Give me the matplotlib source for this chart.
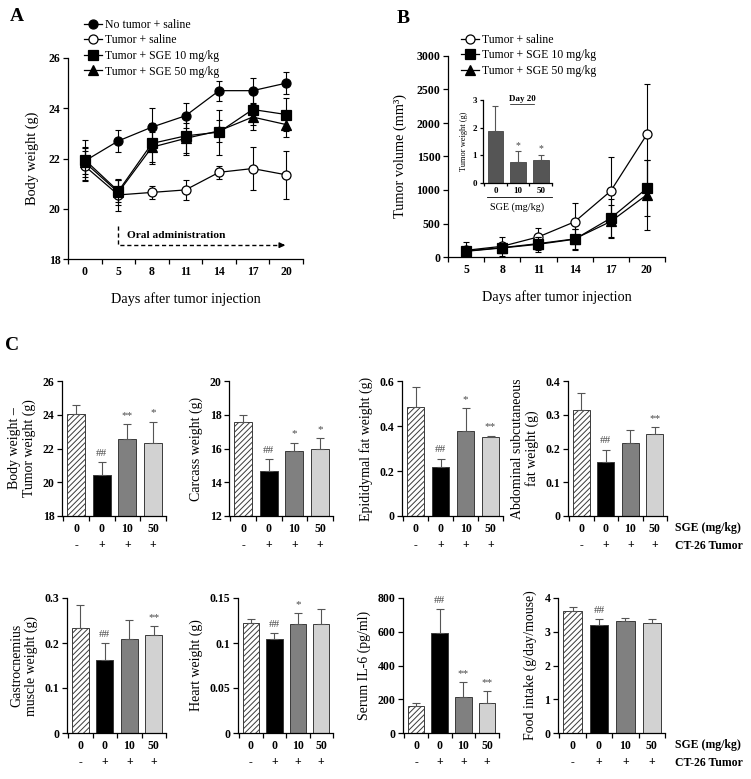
import matplotlib.pyplot as plt
import numpy as np
from matplotlib.ticker import FuncFormatter

plt.rcParams['font.family'] = ['Liberation Serif', 'DejaVu Serif']
plt.rcParams['font.weight'] = 'bold'
plt.rcParams['axes.linewidth'] = 0.9
plt.rcParams['hatch.linewidth'] = 0.7

W, H = 751, 779

# ---- Panel A: body weight over time ----
days_a = ['0', '5', '8', '11', '14', '17', '20']
bw_no_tumor = [21.9, 22.7, 23.25, 23.7, 24.7, 24.7, 25.0]
bw_no_tumor_err = [0.5, 0.45, 0.75, 0.5, 0.4, 0.5, 0.45]
bw_tumor = [21.7, 20.55, 20.65, 20.75, 21.45, 21.6, 21.35]
bw_tumor_err = [0.6, 0.65, 0.25, 0.4, 0.25, 0.85, 0.95]
bw_sge10 = [21.95, 20.7, 22.6, 22.9, 23.05, 23.95, 23.75]
bw_sge10_err = [0.8, 0.45, 0.8, 0.75, 0.9, 0.6, 0.65]
bw_sge50 = [21.85, 20.65, 22.45, 22.8, 23.1, 23.65, 23.35]
bw_sge50_err = [0.6, 0.5, 0.6, 0.6, 0.45, 0.5, 0.5]

# ---- Panel B: tumor volume ----
days_b = ['5', '8', '11', '14', '17', '20']
tv_tumor = [100, 160, 300, 525, 985, 1830]
tv_tumor_err = [120, 140, 140, 280, 510, 750]
tv_sge10 = [85, 135, 190, 265, 580, 1025]
tv_sge10_err = [60, 80, 110, 160, 280, 420]
tv_sge50 = [90, 140, 200, 270, 530, 930]
tv_sge50_err = [60, 70, 100, 150, 240, 520]

# inset: tumor weight at day 20
inset_doses = ['0', '10', '50']
inset_weight = [1.88, 0.77, 0.83]
inset_err = [0.9, 0.38, 0.2]
inset_marks = ['', '*', '*']

# ---- Panel C: bar panels ----
sge_dose = ['0', '0', '10', '50']
ct26 = ['-', '+', '+', '+']

bw_minus_tumor = [24.05, 20.45, 22.55, 22.3]
bw_minus_tumor_err = [0.5, 0.75, 0.9, 1.3]
bw_minus_tumor_sig = ['', '##', '**', '*']

carcass = [17.6, 14.65, 15.85, 15.95]
carcass_err = [0.4, 0.7, 0.5, 0.65]
carcass_sig = ['', '##', '*', '*']

epi_fat = [0.485, 0.22, 0.38, 0.352]
epi_fat_err = [0.09, 0.035, 0.1, 0.005]
epi_fat_sig = ['', '##', '*', '**']

abd_fat = [0.313, 0.16, 0.215, 0.243]
abd_fat_err = [0.052, 0.037, 0.04, 0.02]
abd_fat_sig = ['', '##', '', '**']

gastro = [0.233, 0.163, 0.21, 0.218]
gastro_err = [0.052, 0.036, 0.042, 0.02]
gastro_sig = ['', '##', '', '**']

heart = [0.122, 0.104, 0.121, 0.121]
heart_err = [0.005, 0.007, 0.012, 0.017]
heart_sig = ['', '##', '*', '']

il6 = [160, 595, 212, 175]
il6_err = [20, 140, 90, 75]
il6_sig = ['', '##', '**', '**']

food = [3.62, 3.2, 3.31, 3.25]
food_err = [0.1, 0.17, 0.1, 0.13]
food_sig = ['', '##', '', '']


def box(l, t, r, b):
    return [l / W, 1 - b / H, (r - l) / W, (b - t) / H]


def style(ax, labels, fs, ypad=2):
    ax.spines['top'].set_visible(False)
    ax.spines['right'].set_visible(False)
    n = len(labels)
    ax.set_xticks(np.arange(n + 1) - 0.5)
    ax.set_xticklabels([])
    ax.set_xticks(np.arange(n), minor=True)
    ax.set_xticklabels(labels, minor=True)
    ax.tick_params(axis='both', which='major', direction='out', length=3.5,
                   width=0.9, labelsize=fs, pad=ypad)
    ax.tick_params(axis='x', which='minor', length=0, labelsize=fs, pad=5)
    ax.yaxis.set_major_formatter(FuncFormatter(lambda v, p: '%g' % v))


fig = plt.figure(figsize=(W / 100, H / 100), dpi=100)

# Panel A
ax = fig.add_axes(box(68, 58, 303, 259))
xa = np.arange(len(days_a))
series_a = [
    (bw_no_tumor, bw_no_tumor_err, 'o', 'black', 'No tumor + saline'),
    (bw_tumor, bw_tumor_err, 'o', 'white', 'Tumor + saline'),
    (bw_sge10, bw_sge10_err, 's', 'black', 'Tumor + SGE 10 mg/kg'),
    (bw_sge50, bw_sge50_err, '^', 'black', 'Tumor + SGE 50 mg/kg'),
]
for vals, errs, mk, fc, lab in series_a:
    ax.errorbar(xa, vals, yerr=errs, fmt='none', ecolor='black',
                elinewidth=0.8, capsize=2.5, capthick=0.8)
    ax.plot(xa, vals, color='black', lw=0.9, marker=mk, ms=6.5,
            mfc=fc, mec='black', mew=0.9, label=lab)
ax.set_xlim(-0.5, 6.5)
ax.set_ylim(18, 26)
ax.set_yticks([18, 20, 22, 24, 26])
style(ax, days_a, 8.5)
ax.set_ylabel('Body weight (g)', fontsize=10.3, labelpad=7)
ax.set_xlabel('Days after tumor injection', fontsize=10.3, labelpad=10)
# oral administration arrow
ax.plot([1, 1, 5.9], [19.3, 18.55, 18.55], color='black', lw=1, ls=(0, (3, 2)))
ax.annotate('', xy=(6.05, 18.55), xytext=(5.8, 18.55),
            arrowprops=dict(arrowstyle='-|>', color='black', lw=1,
                            mutation_scale=8))
ax.text(1.25, 18.95, 'Oral administration', fontsize=8.2, va='center')
ax.legend(loc='upper left', bbox_to_anchor=(78 / W, 1 - 13 / H),
          bbox_transform=fig.transFigure, frameon=False, borderpad=0,
          handlelength=1.5, handletextpad=0.3, labelspacing=0.3,
          prop={'weight': 'normal', 'size': 8.5})
fig.text(10 / W, 1 - 8 / H, 'A', fontsize=14, va='top')

# Panel B
ax = fig.add_axes(box(448, 56, 665, 257))
xb = np.arange(len(days_b))
series_b = [
    (tv_tumor, tv_tumor_err, 'o', 'white', 'Tumor + saline'),
    (tv_sge10, tv_sge10_err, 's', 'black', 'Tumor + SGE 10 mg/kg'),
    (tv_sge50, tv_sge50_err, '^', 'black', 'Tumor + SGE 50 mg/kg'),
]
for vals, errs, mk, fc, lab in series_b:
    ax.errorbar(xb, vals, yerr=errs, fmt='none', ecolor='black',
                elinewidth=0.8, capsize=2.5, capthick=0.8)
    ax.plot(xb, vals, color='black', lw=0.9, marker=mk, ms=6.5,
            mfc=fc, mec='black', mew=0.9, label=lab)
ax.set_xlim(-0.5, 5.5)
ax.set_ylim(0, 3000)
ax.set_yticks(np.arange(0, 3001, 500))
style(ax, days_b, 8.5)
ax.set_ylabel('Tumor volume (mm³)', fontsize=10.3, labelpad=7)
ax.set_xlabel('Days after tumor injection', fontsize=10.3, labelpad=10)
ax.legend(loc='upper left', bbox_to_anchor=(455 / W, 1 - 28 / H),
          bbox_transform=fig.transFigure, frameon=False, borderpad=0,
          handlelength=1.5, handletextpad=0.3, labelspacing=0.3,
          prop={'weight': 'normal', 'size': 8.5})
fig.text(397 / W, 1 - 10 / H, 'B', fontsize=14, va='top')

# inset
ins = fig.add_axes(box(483, 100, 552, 183))
xi = np.arange(len(inset_doses))
ins.bar(xi, inset_weight, width=0.7, color='#555555', edgecolor='#444444', lw=0.6)
ins.errorbar(xi, inset_weight, yerr=[np.zeros(3), inset_err], fmt='none',
             ecolor='#555555', elinewidth=0.8, capsize=2, capthick=0.8)
for i, m in enumerate(inset_marks):
    if m:
        ins.annotate(m, (xi[i], inset_weight[i] + inset_err[i]), xytext=(0, 1),
                     textcoords='offset points', ha='center', va='bottom',
                     fontsize=7, color='#444444', fontweight='normal')
ins.set_xlim(-0.55, 2.5)
ins.set_ylim(0, 3)
ins.set_yticks([0, 1, 2, 3])
style(ins, inset_doses, 6.5)
ins.tick_params(axis='both', which='major', length=2.5)
ins.tick_params(axis='x', which='minor', pad=3)
ins.set_ylabel('Tumor weight (g)', fontsize=6, labelpad=3)
ins.set_xlabel('SGE (mg/kg)', fontsize=7.3, labelpad=5)
ins.plot([0.06, 1.0], [-0.17, -0.17], transform=ins.transAxes,
         clip_on=False, color='black', lw=0.6)
ins.text(0.565, 0.985, 'Day 20', transform=ins.transAxes, ha='center',
         va='baseline', fontsize=6.5)
ins.plot([0.39, 0.74], [0.955, 0.955], transform=ins.transAxes,
         clip_on=False, color='black', lw=0.5)

# Panel C
fig.text(5 / W, 1 - 337 / H, 'C', fontsize=14, va='top')

bar_faces = ['white', 'black', '#808080', '#d2d2d2']
bar_hatch = ['//////', None, None, None]
cat_labels = [d + '\n' + t for d, t in zip(sge_dose, ct26)]

panels = [
    ((62, 381, 166, 516), bw_minus_tumor, bw_minus_tumor_err, bw_minus_tumor_sig,
     (18, 26), [18, 20, 22, 24, 26], 'Body weight \u2013\nTumor weight (g)'),
    ((229, 381, 333, 516), carcass, carcass_err, carcass_sig,
     (12, 20), [12, 14, 16, 18, 20], 'Carcass weight (g)'),
    ((402, 381, 503, 516), epi_fat, epi_fat_err, epi_fat_sig,
     (0, 0.6), [0, 0.2, 0.4, 0.6], 'Epididymal fat weight (g)'),
    ((568, 381, 667, 516), abd_fat, abd_fat_err, abd_fat_sig,
     (0, 0.4), [0, 0.1, 0.2, 0.3, 0.4], 'Abdominal subcutaneous\nfat weight (g)'),
    ((67, 598, 166, 733), gastro, gastro_err, gastro_sig,
     (0, 0.3), [0, 0.1, 0.2, 0.3], 'Gastrocnemius\nmuscle weight (g)'),
    ((238, 598, 333, 733), heart, heart_err, heart_sig,
     (0, 0.15), [0, 0.05, 0.1, 0.15], 'Heart weight (g)'),
    ((403, 598, 499, 733), il6, il6_err, il6_sig,
     (0, 800), [0, 200, 400, 600, 800], 'Serum IL-6 (pg/ml)'),
    ((558, 598, 665, 733), food, food_err, food_sig,
     (0, 4), [0, 1, 2, 3, 4], 'Food intake (g/day/mouse)'),
]

for pos, vals, errs, sig, ylim, yt, ylab in panels:
    ax = fig.add_axes(box(*pos))
    xc = np.arange(len(vals))
    for i in range(len(vals)):
        ax.bar(xc[i], vals[i], width=0.7, color=bar_faces[i],
               edgecolor='#3a3a3a', lw=0.7, hatch=bar_hatch[i])
    ax.errorbar(xc, vals, yerr=[np.zeros(len(vals)), errs], fmt='none',
                ecolor='#555555', elinewidth=0.8, capsize=3, capthick=0.8)
    for i, m in enumerate(sig):
        if m:
            ax.annotate(m, (xc[i], vals[i] + errs[i]), xytext=(0, 3),
                        textcoords='offset points', ha='center', va='bottom',
                        fontsize=8, color='#4a4a4a', fontweight='normal')
    ax.set_xlim(-0.55, 3.5)
    ax.set_ylim(*ylim)
    ax.set_yticks(yt)
    style(ax, cat_labels, 8.5)
    for lbl in ax.get_xticklabels(minor=True):
        lbl.set_linespacing(1.5)
    ax.set_ylabel(ylab, fontsize=10, labelpad=5, linespacing=1.1)

for y0 in (528, 745):
    fig.text(675 / W, 1 - y0 / H, 'SGE (mg/kg)', fontsize=8.5, va='center')
    fig.text(675 / W, 1 - (y0 + 18) / H, 'CT-26 Tumor', fontsize=8.5, va='center')

fig.savefig('out.png', dpi=100)
